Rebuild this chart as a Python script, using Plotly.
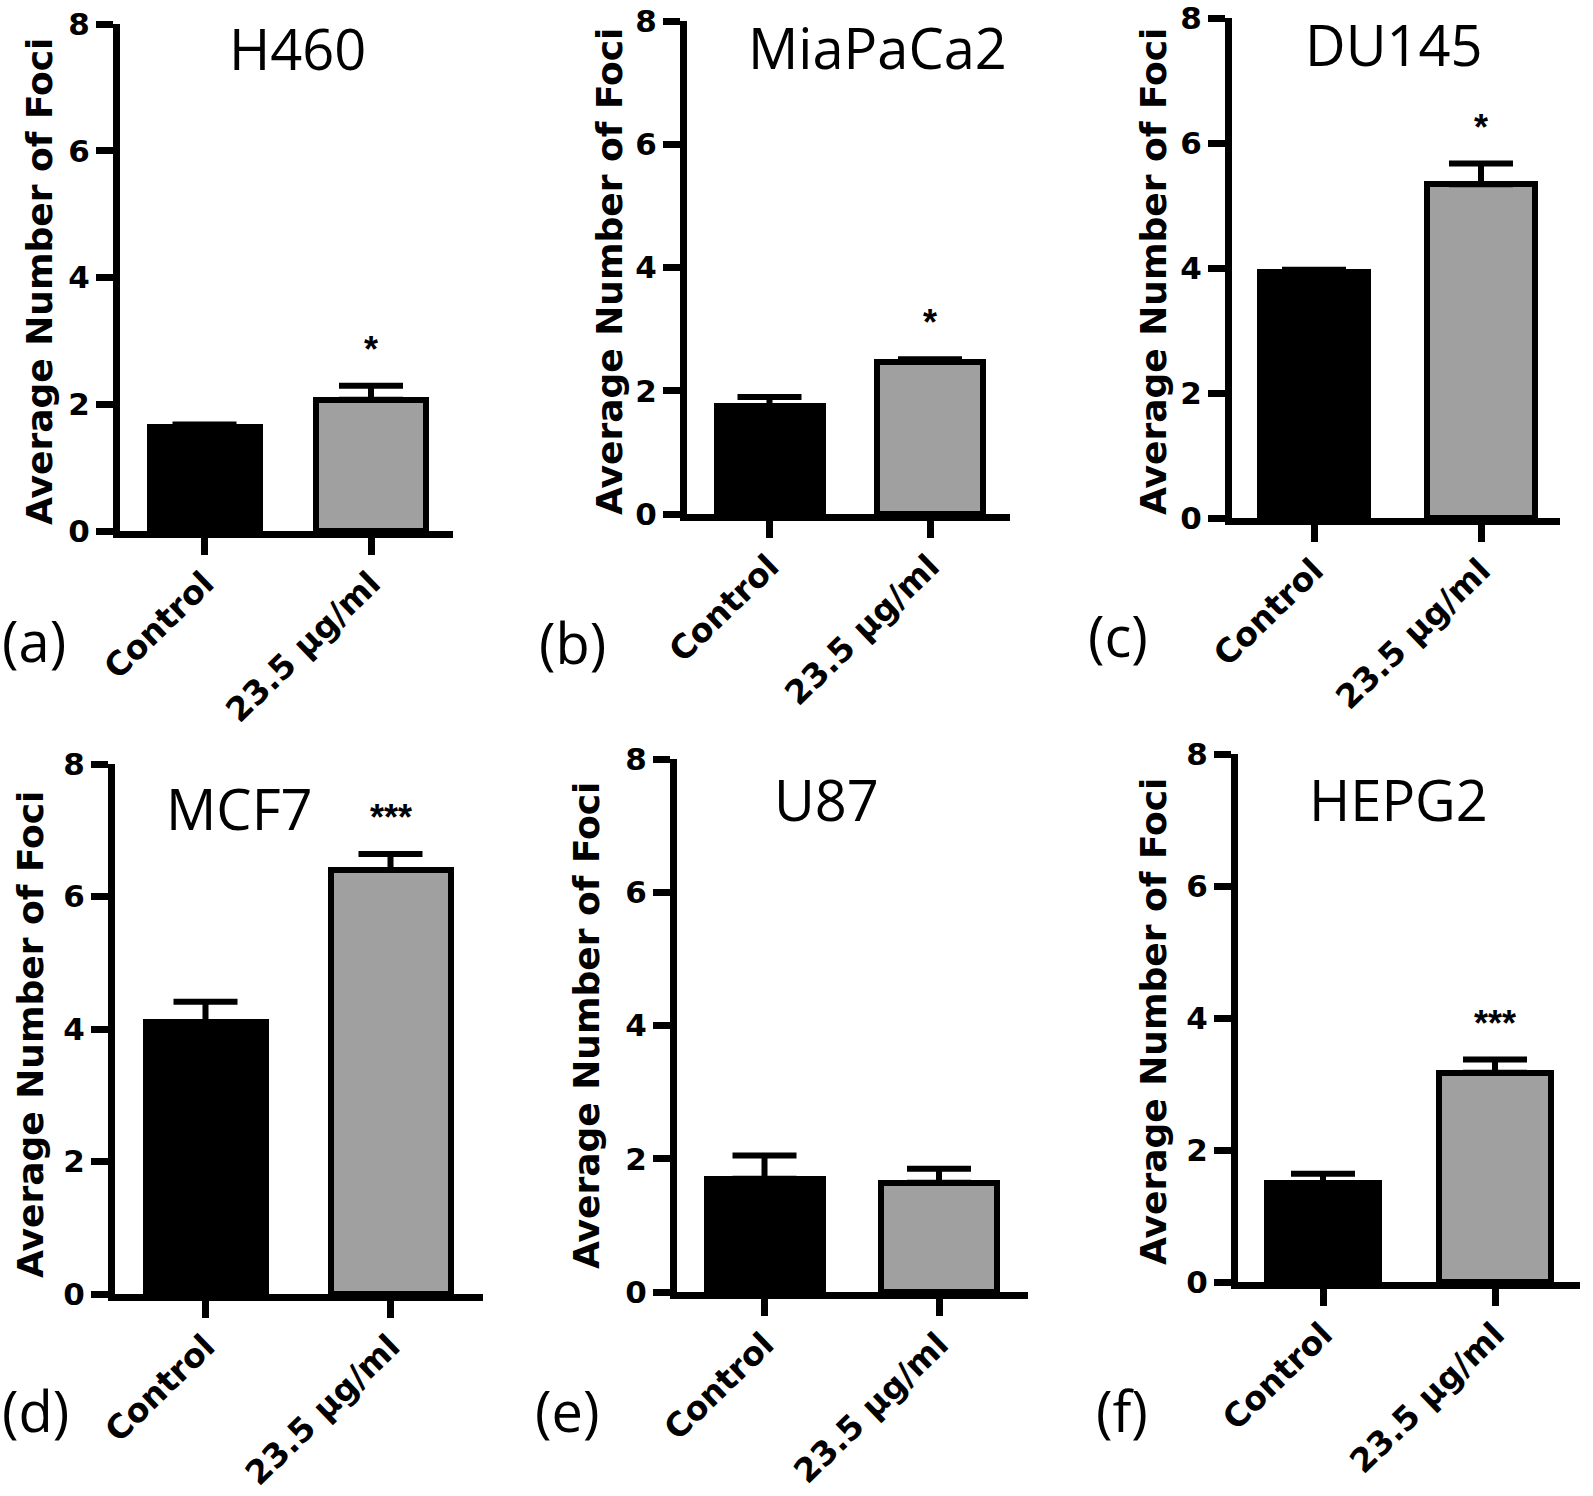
import plotly.graph_objects as go

# ---------------- data ----------------
CELL_LINES = ["H460", "MiaPaCa2", "DU145", "MCF7", "U87", "HEPG2"]
PANEL_TAGS = ["(a)", "(b)", "(c)", "(d)", "(e)", "(f)"]
CATEGORIES = ["Control", "23.5 μg/ml"]
CONTROL_MEAN = [1.64, 1.75, 3.94, 4.10, 1.70, 1.50]
CONTROL_SEM = [0.04, 0.15, 0.03, 0.31, 0.35, 0.14]
TREATED_MEAN = [2.07, 2.47, 5.34, 6.40, 1.64, 3.17]
TREATED_SEM = [0.22, 0.04, 0.33, 0.24, 0.21, 0.20]
SIGNIFICANCE = ["*", "*", "*", "***", "", "***"]
Y_TICKS = [0, 2, 4, 6, 8]
Y_LABEL = "Average Number of Foci"

# ---------------- layout (pixel geometry of each panel) ----------------
W, H = 1593, 1496
PANELS = [
    dict(yx=120, xr=453, yt=24, yb=531, c0=204.5, c1=371, bw=116,
         tx=297, ty=48, lx=34, ly=640, ax=40, ay=282),
    dict(yx=687, xr=1010, yt=21, yb=514, c0=769.5, c1=930, bw=112,
         tx=877, ty=47, lx=572, ly=642, ax=609, ay=272),
    dict(yx=1232, xr=1560, yt=18, yb=518, c0=1314, c1=1481, bw=114,
         tx=1394, ty=44, lx=1118, ly=635, ax=1153, ay=272),
    dict(yx=115, xr=483, yt=764, yb=1294, c0=205.5, c1=390.5, bw=126,
         tx=240, ty=808, lx=35, ly=1410, ax=30, ay=1035),
    dict(yx=677, xr=1028, yt=759, yb=1292, c0=764.5, c1=939, bw=122,
         tx=826, ty=799, lx=567, ly=1410, ax=586, ay=1026),
    dict(yx=1238, xr=1580, yt=754, yb=1282, c0=1323, c1=1495, bw=118,
         tx=1398, ty=799, lx=1122, ly=1410, ax=1154, ay=1022),
]

BLACK = "#000000"
GREY = "#a0a0a0"
LW = 7
BORDER = 6

fig = go.Figure()
annotations = []
layout_axes = {}

for i, p in enumerate(PANELS):
    n = "" if i == 0 else str(i + 1)
    s = p["c1"] - p["c0"]
    xr_lo = -(p["c0"] - p["yx"]) / s
    xr_hi = 1 + (p["xr"] - p["c1"]) / s
    bar_w = (p["bw"] - BORDER) / s

    fig.add_trace(go.Bar(
        x=CATEGORIES,
        y=[CONTROL_MEAN[i], TREATED_MEAN[i]],
        width=bar_w,
        marker=dict(color=[BLACK, GREY], line=dict(color=BLACK, width=BORDER)),
        error_y=dict(type="data", symmetric=False,
                     array=[CONTROL_SEM[i], TREATED_SEM[i]],
                     arrayminus=[0, 0],
                     color=BLACK, thickness=6, width=32),
        xaxis="x" + n, yaxis="y" + n, showlegend=False,
    ))

    layout_axes["xaxis" + n] = dict(
        domain=[p["yx"] / W, p["xr"] / W],
        anchor="y" + n, automargin=False,
        type="category", categoryorder="array", categoryarray=CATEGORIES,
        range=[xr_lo, xr_hi],
        showline=True, linecolor=BLACK, linewidth=LW,
        ticks="outside", ticklen=17, tickwidth=LW, tickcolor=BLACK,
        tickangle=-44, ticklabelstandoff=-4, ticklabeloverflow="allow",
        tickfont=dict(family="DejaVu Sans", size=33, color=BLACK, weight="bold"),
        showgrid=False, zeroline=False, fixedrange=True,
    )
    layout_axes["yaxis" + n] = dict(
        domain=[1 - p["yb"] / H, 1 - p["yt"] / H],
        anchor="x" + n, automargin=False,
        range=[0, 8],
        tickmode="array", tickvals=Y_TICKS, ticktext=[str(t) for t in Y_TICKS],
        showline=True, linecolor=BLACK, linewidth=LW,
        ticks="outside", ticklen=17, tickwidth=LW, tickcolor=BLACK,
        ticklabeloverflow="allow",
        tickfont=dict(family="DejaVu Sans", size=31, color=BLACK, weight="bold"),
        showgrid=False, zeroline=False, fixedrange=True,
    )

    # panel title (cell line)
    annotations.append(dict(
        text=CELL_LINES[i], x=p["tx"] / W, y=1 - p["ty"] / H,
        xref="paper", yref="paper", xanchor="center", yanchor="middle",
        showarrow=False, font=dict(family="Open Sans", size=56, color=BLACK)))
    # panel tag
    annotations.append(dict(
        text=PANEL_TAGS[i], x=p["lx"] / W, y=1 - p["ly"] / H,
        xref="paper", yref="paper", xanchor="center", yanchor="middle",
        showarrow=False, font=dict(family="Open Sans", size=56, color=BLACK)))
    # y-axis title
    annotations.append(dict(
        text=Y_LABEL, x=p["ax"] / W, y=1 - p["ay"] / H, textangle=-90,
        xref="paper", yref="paper", xanchor="center", yanchor="middle",
        showarrow=False,
        font=dict(family="DejaVu Sans", size=36, color=BLACK, weight="bold")))
    # significance
    if SIGNIFICANCE[i]:
        annotations.append(dict(
            text=SIGNIFICANCE[i], x=CATEGORIES[1],
            y=TREATED_MEAN[i] + TREATED_SEM[i],
            xref="x" + n, yref="y" + n, xanchor="center", yanchor="bottom",
            yshift=14, showarrow=False,
            font=dict(family="Liberation Sans", size=36, color=BLACK, weight="bold")))

fig.update_layout(
    template="none",
    width=W, height=H,
    margin=dict(l=0, r=0, t=0, b=0, autoexpand=False),
    paper_bgcolor="white", plot_bgcolor="white",
    annotations=annotations,
    bargap=0,
    **layout_axes,
)

fig.write_html("out.html", config={"displayModeBar": False},
               post_script="document.body.style.margin='0';document.body.style.overflow='hidden';")
